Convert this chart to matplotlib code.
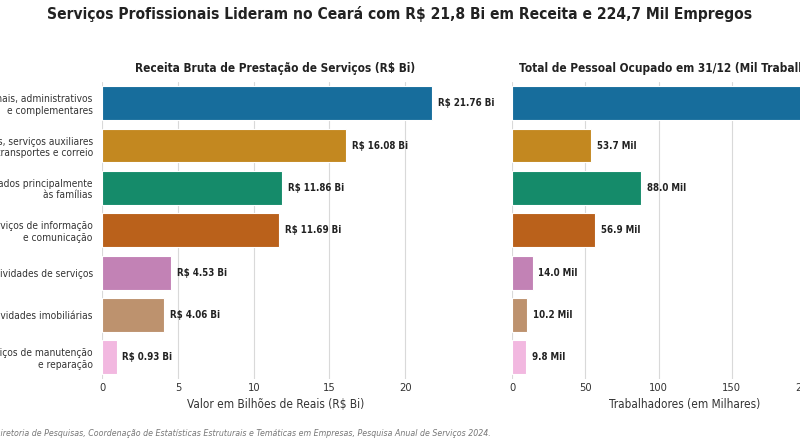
import matplotlib
matplotlib.use("Agg")
import matplotlib.pyplot as plt
import pandas as pd
import seaborn as sns

# dados (PAS 2024 - Ceará)
categorias = [
    "Serviços profissionais, administrativos\ne complementares",
    "Transportes, serviços auxiliares\naos transportes e correio",
    "Serviços prestados principalmente\nàs famílias",
    "Serviços de informação\ne comunicação",
    "Outras atividades de serviços",
    "Atividades imobiliárias",
    "Serviços de manutenção\ne reparação",
]
receita_bi = [21.76, 16.08, 11.86, 11.69, 4.53, 4.06, 0.93]
pessoal_mil = [224.7, 53.7, 88.0, 56.9, 14.0, 10.2, 9.8]

df = pd.DataFrame({"cat": categorias, "receita": receita_bi, "pessoal": pessoal_mil})

sns.set_theme(style="whitegrid")
plt.rcParams["font.family"] = ["DejaVu Sans"]
plt.rcParams["font.stretch"] = "condensed"

W, H = 800, 445
fig = plt.figure(figsize=(W / 100, H / 100), dpi=100)


def px_axes(x0, y0, x1, y1):
    # posição em pixels (origem no topo)
    return fig.add_axes([x0 / W, 1 - y1 / H, (x1 - x0) / W, (y1 - y0) / H])


sc_left = 15.13
sc_right = 1.465
xmax_l = max(receita_bi) * 1.05
xmax_r = max(pessoal_mil) * 1.05
top, bottom = 82.0, 378.5

ax1 = px_axes(102.5, top, 102.5 + xmax_l * sc_left, bottom)
ax2 = px_axes(512, top, 512 + xmax_r * sc_right, bottom)

for ax, col, xmax in [(ax1, "receita", xmax_l), (ax2, "pessoal", xmax_r)]:
    sns.barplot(data=df, y="cat", x=col, hue="cat", palette="colorblind",
                legend=False, ax=ax, edgecolor="white", linewidth=0.8)
    ax.set_xlim(0, xmax)
    ax.grid(axis="y", visible=False)
    ax.grid(axis="x", color="#d9d9d9", linewidth=0.8)
    sns.despine(ax=ax, left=True, bottom=True)
    ax.tick_params(axis="x", length=0, labelsize=8, colors="#333333")
    ax.tick_params(axis="y", length=0, labelsize=7.3, colors="#333333", pad=7)
    ax.set_ylabel("")

ax1.set_title("Receita Bruta de Prestação de Serviços (R$ Bi)",
              fontsize=8.5, fontweight="bold", color="#222222", pad=7)
ax1.set_xlabel("Valor em Bilhões de Reais (R$ Bi)", fontsize=8.5, color="#333333", labelpad=3)
ax2.set_title("Total de Pessoal Ocupado em 31/12 (Mil Trabalhadores)",
              fontsize=8.5, fontweight="bold", color="#222222", pad=7)
ax2.set_xlabel("Trabalhadores (em Milhares)", fontsize=8.5, color="#333333", labelpad=3)
ax2.set_yticklabels([])

for i, v in enumerate(receita_bi):
    ax1.text(v + xmax_l * 0.017, i, f"R$ {v:.2f} Bi", va="center", ha="left",
             fontsize=7, fontweight="bold", color="#222222")
for i, v in enumerate(pessoal_mil):
    ax2.text(v + xmax_r * 0.017, i, f"{v:.1f} Mil", va="center", ha="left",
             fontsize=7, fontweight="bold", color="#222222")

fig.suptitle("Serviços Profissionais Lideram no Ceará com R$ 21,8 Bi em Receita e 224,7 Mil Empregos",
             fontsize=11.2, fontweight="bold", color="#222222", y=1 - 14 / H, va="center")

fig.text(491 / W, 1 - 434 / H,
         "Fonte: IBGE, Diretoria de Pesquisas, Coordenação de Estatísticas Estruturais e "
         "Temáticas em Empresas, Pesquisa Anual de Serviços 2024.",
         ha="right", va="center", fontsize=6.35, style="italic", color="#777777")

fig.savefig("out.png", dpi=100)
